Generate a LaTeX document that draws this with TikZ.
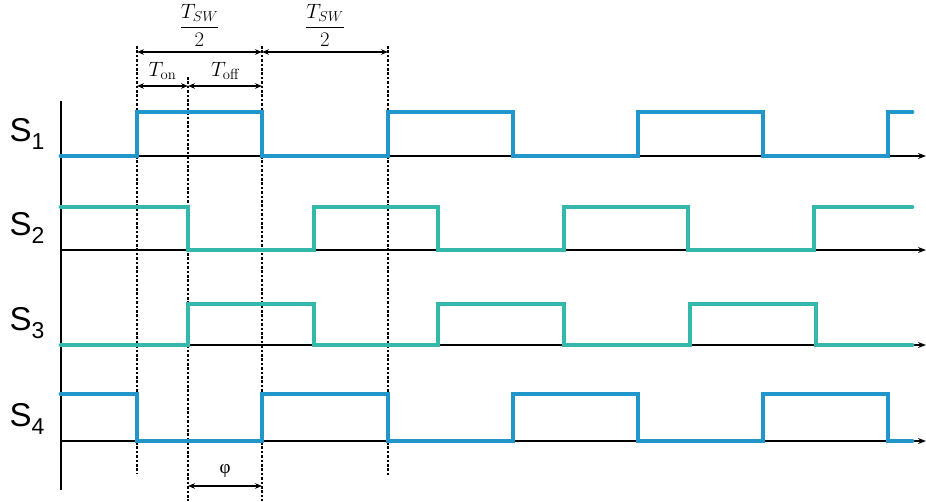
\documentclass[tikz,border=0pt]{standalone}
\usepackage{amsmath}
\usepackage{fontspec}
\setsansfont{Liberation Sans}
\newfontfamily\grfont{Liberation Serif}
\usetikzlibrary{arrows,arrows.meta,positioning,calc}
\definecolor{sigblue}{RGB}{32,150,202}
\definecolor{sigteal}{RGB}{52,184,170}
\tikzset{axis/.style={draw,line width=1.8pt}}
\tikzstyle{sig}=[line width=4.8pt, line cap=round]
\tikzstyle{guide}=[line width=1.5pt, dash pattern=on 2.6pt off 1.8pt]
\tikzstyle{dim}=[{Stealth[length=7pt,width=5.5pt]}-{Stealth[length=7pt,width=5.5pt]}, line width=1.1pt]
\tikzstyle{chan}=[font=\sffamily\fontsize{33}{33}\selectfont, inner sep=0pt]
\tikzstyle{lbl}=[font=\fontsize{21}{21}\selectfont, inner sep=0pt]

\begin{document}
\begin{tikzpicture}[>={Stealth[length=8pt,width=6pt]}, x=1pt, y=-1pt]
\useasboundingbox (0,0) rectangle (926,501);
% guide lines
\coordinate (a1) at (137,46);  \coordinate (a2) at (137,473);
\coordinate (b1) at (188,77);  \coordinate (b2) at (188,501);
\coordinate (c1) at (262,46);  \coordinate (c2) at (262,501);
\coordinate (d1) at (388,46);  \coordinate (d2) at (388,475);
\draw[guide] (a1) -- (a2);
\draw[guide] (b1) -- (b2);
\draw[guide] (c1) -- (c2);
\draw[guide] (d1) -- (d2);
% axes
\draw[axis] (61,101) -- (61,490);
\foreach \y/\n in {156/1,250/2,345/3,441/4}{
  \draw[axis,->,line width=1.6pt] (61,\y) -- (926,\y);
  \node[chan] (S\n) at (27,\y-22) {S\raisebox{-0.22em}{\fontsize{23}{23}\selectfont\n}};
}
% signals
\draw[sig,sigblue] (61,156) -- (137,156) -- (137,112) -- (262,112) -- (262,156) -- (388,156) -- (388,112) -- (513,112)
  -- (513,156) -- (638,156) -- (638,112) -- (763,112) -- (763,156) -- (888,156) -- (888,112) -- (912,112);
\draw[sig,sigteal] (61,207) -- (188,207) -- (188,250) -- (314,250) -- (314,207) -- (438,207) -- (438,250) -- (564,250)
  -- (564,207) -- (688,207) -- (688,250) -- (814,250) -- (814,207) -- (912,207);
\draw[sig,sigteal] (61,345) -- (188,345) -- (188,304) -- (314,304) -- (314,345) -- (438,345) -- (438,304) -- (564,304)
  -- (564,345) -- (690,345) -- (690,304) -- (816,304) -- (816,345) -- (912,345);
\draw[sig,sigblue] (61,394) -- (137,394) -- (137,441) -- (262,441) -- (262,394) -- (388,394) -- (388,441) -- (513,441)
  -- (513,394) -- (638,394) -- (638,441) -- (763,441) -- (763,394) -- (888,394) -- (888,441) -- (912,441);
% dimensions
\coordinate (h1) at (137,52); \coordinate (h2) at (262,52); \coordinate (h3) at (388,52);
\coordinate (t1) at (137,86); \coordinate (t2) at (188,86); \coordinate (t3) at (262,86);
\coordinate (p1) at (188,486); \coordinate (p2) at (262,486);
\draw[dim] (h1) -- node[lbl, above=5pt] (Th1) {$\dfrac{T_{SW}}{2}$} (h2);
\draw[dim] (h2) -- node[lbl, above=5pt] (Th2) {$\dfrac{T_{SW}}{2}$} (h3);
\draw[dim] (t1) -- node[lbl, above=6pt] (Ton) {$T_{\text{on}}$} (t2);
\draw[dim] (t2) -- node[lbl, above=6pt] (Toff) {$T_{\text{off}}$} (t3);
\draw[dim] (p1) -- node[lbl, above=8pt, font=\grfont\fontsize{19}{19}\selectfont] (phi) {φ} (p2);
\end{tikzpicture}
\end{document}
